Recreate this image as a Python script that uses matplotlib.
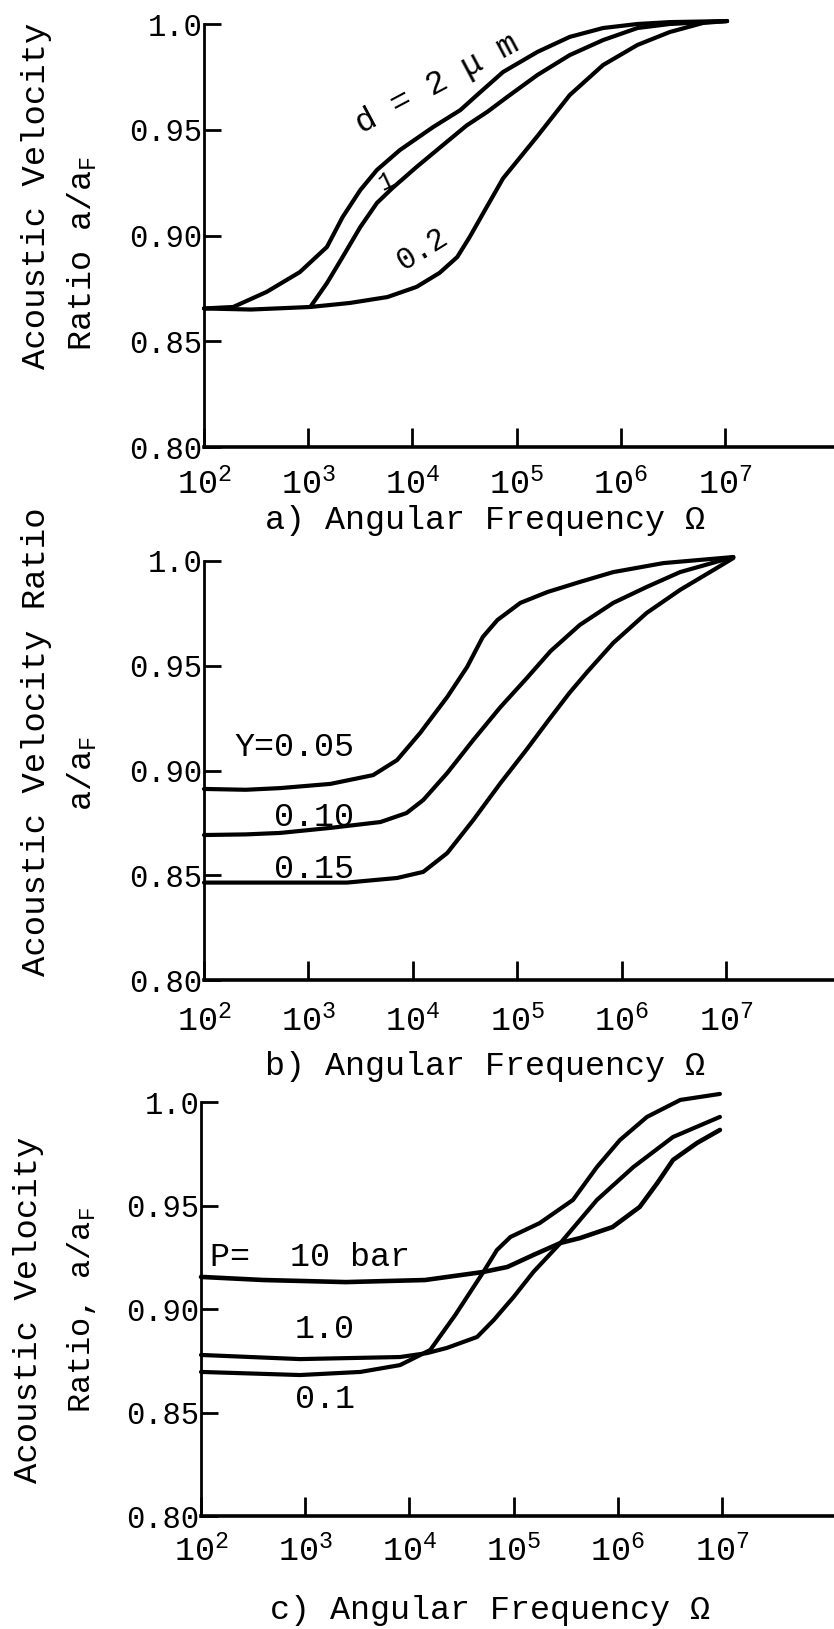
import numpy as np
import matplotlib
matplotlib.use("Agg")
import matplotlib.pyplot as plt

plt.rcParams["font.family"] = ["Liberation Mono", "DejaVu Sans Mono"]
plt.rcParams["mathtext.fontset"] = "custom"
plt.rcParams["mathtext.rm"] = "Liberation Mono"
plt.rcParams["mathtext.it"] = "Liberation Mono"
plt.rcParams["mathtext.bf"] = "Liberation Mono:bold"

W, H = 834, 1629

# x values are log10 of angular frequency, y values are a/aF

# a) particle size d
a_d2_x = [2.0, 2.28, 2.60, 2.92, 3.18, 3.33, 3.50, 3.66, 3.88, 4.20, 4.46, 4.62, 4.87, 5.20, 5.51, 5.83, 6.16, 6.47, 7.02]
a_d2_y = [0.8655, 0.8662, 0.8733, 0.8827, 0.8946, 0.9087, 0.9215, 0.9310, 0.9404, 0.9513, 0.9593, 0.9664, 0.9773, 0.9868, 0.9939, 0.9981, 1.0000, 1.0009, 1.0014]
a_d1_x = [3.02, 3.18, 3.33, 3.50, 3.66, 3.81, 4.04, 4.26, 4.52, 4.72, 4.91, 5.20, 5.51, 5.83, 6.16, 6.47, 7.02]
a_d1_y = [0.8662, 0.8775, 0.8898, 0.9040, 0.9154, 0.9225, 0.9324, 0.9414, 0.9520, 0.9585, 0.9655, 0.9759, 0.9853, 0.9924, 0.9981, 1.0000, 1.0014]
a_d02_x = [2.0, 2.45, 3.02, 3.40, 3.76, 4.04, 4.26, 4.43, 4.55, 4.68, 4.87, 5.20, 5.51, 5.83, 6.16, 6.47, 6.79, 7.02]
a_d02_y = [0.8655, 0.8650, 0.8662, 0.8681, 0.8709, 0.8757, 0.8823, 0.8898, 0.8993, 0.9106, 0.9270, 0.9470, 0.9664, 0.9806, 0.9901, 0.9962, 1.0005, 1.0014]

# b) mass fraction Y
b_y05_x = [2.0, 2.4, 2.73, 3.21, 3.62, 3.85, 4.07, 4.33, 4.52, 4.67, 4.81, 5.03, 5.29, 5.60, 5.92, 6.40, 7.07]
b_y05_y = [0.8912, 0.8908, 0.8916, 0.8936, 0.8978, 0.9050, 0.9179, 0.9351, 0.9494, 0.9637, 0.9718, 0.9800, 0.9852, 0.9900, 0.9947, 0.9990, 1.0019]
b_y10_x = [2.0, 2.4, 2.73, 3.21, 3.69, 3.94, 4.10, 4.33, 4.58, 4.84, 5.09, 5.32, 5.60, 5.92, 6.24, 6.56, 7.07]
b_y10_y = [0.8692, 0.8695, 0.8702, 0.8726, 0.8754, 0.8797, 0.8859, 0.8988, 0.9146, 0.9303, 0.9440, 0.9570, 0.9695, 0.9800, 0.9876, 0.9947, 1.0019]
b_y15_x = [2.0, 2.73, 3.37, 3.85, 4.10, 4.33, 4.58, 4.84, 5.09, 5.30, 5.50, 5.67, 5.92, 6.24, 6.56, 6.88, 7.07]
b_y15_y = [0.8465, 0.8465, 0.8465, 0.8487, 0.8516, 0.8606, 0.8764, 0.8940, 0.9100, 0.9240, 0.9370, 0.9470, 0.9609, 0.9752, 0.9862, 0.9957, 1.0014]

# c) pressure P
c_p10_x = [2.0, 2.6, 3.39, 4.15, 4.71, 4.94, 5.19, 5.45, 5.64, 5.95, 6.21, 6.38, 6.53, 6.76, 6.98]
c_p10_y = [0.9155, 0.9140, 0.9130, 0.9140, 0.9179, 0.9203, 0.9261, 0.9319, 0.9343, 0.9396, 0.9493, 0.9609, 0.9720, 0.9802, 0.9865]
c_p1_x = [2.0, 2.95, 3.91, 4.17, 4.36, 4.65, 4.81, 5.00, 5.19, 5.45, 5.80, 6.15, 6.53, 6.98]
c_p1_y = [0.8778, 0.8758, 0.8768, 0.8787, 0.8812, 0.8865, 0.8947, 0.9058, 0.9179, 0.9319, 0.9527, 0.9686, 0.9831, 0.9928]
c_p01_x = [2.0, 2.95, 3.53, 3.91, 4.20, 4.44, 4.71, 4.84, 4.97, 5.25, 5.57, 5.80, 6.02, 6.28, 6.60, 6.98]
c_p01_y = [0.8696, 0.8681, 0.8696, 0.8729, 0.8802, 0.8971, 0.9179, 0.9285, 0.9348, 0.9415, 0.9527, 0.9686, 0.9816, 0.9928, 1.0010, 1.0039]

decades = [2, 3, 4, 5, 6, 7]
x_tick_labels = [r"$10^{%d}$" % d for d in decades]
y_ticks = [0.80, 0.85, 0.90, 0.95, 1.0]
y_tick_labels = ["0.80", "0.85", "0.90", "0.95", "1.0"]


def px(x, y):
    return x / W, 1 - y / H


def make_panel(fig, left, top, bottom, per_decade, xpad):
    ax = fig.add_axes([left / W, 1 - bottom / H, (W - left) / W, (bottom - top) / H])
    ax.set_xscale("log")
    ax.set_xlim(1e2, 10 ** (2 + (W - left) / per_decade))
    ax.set_ylim(0.8, 1.0)
    ax.spines["top"].set_visible(False)
    ax.spines["right"].set_visible(False)
    ax.spines["left"].set_linewidth(2.0)
    ax.spines["bottom"].set_linewidth(2.6)
    ax.set_xticks([10.0 ** d for d in decades])
    ax.set_xticklabels(x_tick_labels, fontsize=24)
    ax.xaxis.set_minor_locator(matplotlib.ticker.NullLocator())
    ax.set_yticks(y_ticks)
    ax.set_yticklabels(y_tick_labels, fontsize=22)
    ax.tick_params(axis="x", direction="in", length=14, width=2, pad=xpad)
    ax.tick_params(axis="y", direction="in", length=12, width=2, pad=1)
    ax.patch.set_visible(False)
    return ax


def draw(ax, xs, ys, lw=3.0):
    ax.plot(10.0 ** np.array(xs), ys, color="black", lw=lw, clip_on=False,
            solid_capstyle="round", solid_joinstyle="round")


fig = plt.figure(figsize=(W / 100, H / 100), dpi=100)

# panel a
ax_a = make_panel(fig, 204, 24, 447, 104.2, 15)
draw(ax_a, a_d2_x, a_d2_y)
draw(ax_a, a_d1_x, a_d1_y)
draw(ax_a, a_d02_x, a_d02_y)
fig.text(*px(437, 84), "d = 2 \u03bc m", fontsize=24, rotation=28, ha="center", va="center")
fig.text(*px(386, 181), "1", fontsize=18, rotation=25, ha="center", va="center")
fig.text(*px(422, 250), "0.2", fontsize=22, rotation=32, ha="center", va="center")
fig.text(*px(37, 196), "Acoustic Velocity", fontsize=24.5, rotation=90, ha="center", va="center")
fig.text(*px(82, 253), r"Ratio a/a$_\mathrm{F}$", fontsize=24, rotation=90, ha="center", va="center")
fig.text(*px(485, 521), "a) Angular Frequency \u03a9", fontsize=24, ha="center", va="center")

# panel b
ax_b = make_panel(fig, 204, 561, 980, 104.4, 18)
draw(ax_b, b_y05_x, b_y05_y)
draw(ax_b, b_y10_x, b_y10_y)
draw(ax_b, b_y15_x, b_y15_y)
fig.text(*px(354, 748), "Y=0.05", fontsize=24, ha="right", va="center")
fig.text(*px(354, 817), "0.10", fontsize=24, ha="right", va="center")
fig.text(*px(354, 869), "0.15", fontsize=24, ha="right", va="center")
fig.text(*px(37, 742), "Acoustic Velocity Ratio", fontsize=24.5, rotation=90, ha="center", va="center")
fig.text(*px(82, 774), r"a/a$_\mathrm{F}$", fontsize=24, rotation=90, ha="center", va="center")
fig.text(*px(485, 1067), "b) Angular Frequency \u03a9", fontsize=24, ha="center", va="center")

# panel c
ax_c = make_panel(fig, 201, 1102, 1516, 104.2, 14)
draw(ax_c, c_p10_x, c_p10_y, lw=3.3)
draw(ax_c, c_p1_x, c_p1_y)
draw(ax_c, c_p01_x, c_p01_y)
fig.text(*px(210, 1258), "P=  10 bar", fontsize=24, ha="left", va="center")
fig.text(*px(295, 1330), "1.0", fontsize=24, ha="left", va="center")
fig.text(*px(295, 1399), "0.1", fontsize=24, ha="left", va="center")
fig.text(*px(29, 1310), "Acoustic Velocity", fontsize=24.5, rotation=90, ha="center", va="center")
fig.text(*px(82, 1310), r"Ratio, a/a$_\mathrm{F}$", fontsize=23, rotation=90, ha="center", va="center")
fig.text(*px(490, 1610), "c) Angular Frequency \u03a9", fontsize=24, ha="center", va="center")

fig.savefig("out.png", dpi=100)
